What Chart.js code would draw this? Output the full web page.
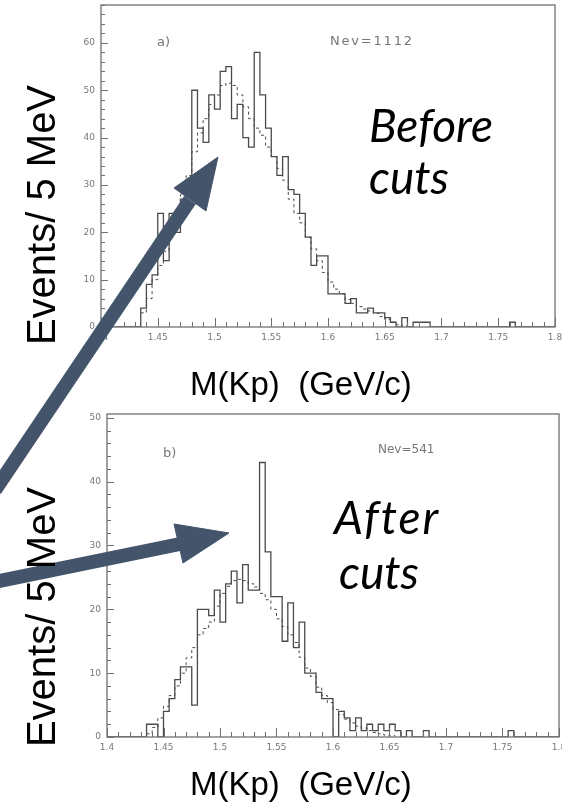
<!DOCTYPE html>
<html>
<head>
<meta charset="utf-8">
<script src="https://cdn.jsdelivr.net/npm/chart.js@4.4.1/dist/chart.umd.min.js"></script>
<style>
  html, body { margin: 0; padding: 0; background: #fff; }
  #page { position: relative; width: 564px; height: 802px; overflow: hidden; }
  canvas { position: absolute; }
  .t { position: absolute; white-space: nowrap; line-height: 1; color: #000; }
  .axis { font-family: "Liberation Sans", Arial, sans-serif; font-size: 33px; }
  .ylab { font-family: "Liberation Sans", Arial, sans-serif; font-size: 40px;
          transform: translate(-50%, -50%) rotate(-90deg); }
  .note { font-family: Lato, "Open Sans", sans-serif; font-style: italic; font-size: 46px; }
  .tag { font-family: "DejaVu Sans", sans-serif; color: #777; font-size: 13px; }
  svg { position: absolute; left: 0; top: 0; }
</style>
</head>
<body>
<div id="page">
  <canvas id="top" width="512" height="350" style="left:50px; top:0px"></canvas>
  <canvas id="bot" width="512" height="360" style="left:50px; top:400px"></canvas>

  <svg width="564" height="802">
    <g fill="#44546a" stroke="#44546a">
      <line x1="-5" y1="490" x2="190" y2="200" stroke-width="14"/>
      <polygon points="218,157 174,188 206,211" stroke-width="1"/>
      <line x1="-5" y1="582" x2="180" y2="544" stroke-width="14"/>
      <polygon points="229,533 174,524 183,563" stroke-width="1"/>
    </g>
  </svg>

  <div class="t tag" style="left:157px; top:35px">a)</div>
  <div class="t tag" style="left:330px; top:34px; letter-spacing:1.8px">Nev=1112</div>
  <div class="t tag" style="left:163px; top:446px">b)</div>
  <div class="t tag" style="left:378px; top:443px; font-size:12px">Nev=541</div>

  <div class="t note" style="left:369px; top:102px">Before</div>
  <div class="t note" style="left:369px; top:154px">cuts</div>
  <div class="t note" style="left:334px; top:494px; letter-spacing:2px">After</div>
  <div class="t note" style="left:339px; top:549px">cuts</div>

  <div class="t axis" style="left:190px; top:367px">M(Kp)&nbsp; (GeV/c)</div>
  <div class="t axis" style="left:190px; top:767px">M(Kp)&nbsp; (GeV/c)</div>
  <div class="t ylab" style="left:41px; top:215px">Events/ 5 MeV</div>
  <div class="t ylab" style="left:41px; top:617px">Events/ 5 MeV</div>
</div>

<script>
  // 80 bins of 5 MeV from 1.4 to 1.8 GeV
  const BIN_START = 1.4;
  const BIN_WIDTH = 0.005;
  const X_TICKS = [1.4, 1.45, 1.5, 1.55, 1.6, 1.65, 1.7, 1.75, 1.8];

  // a) before cuts
  const TOP_COUNTS = [
    0, 0, 0, 0, 0, 0, 0, 4, 9, 11,
    24, 14, 24, 20, 27, 31, 50, 42, 39, 49,
    46, 54, 55, 44, 47, 40, 38, 58, 49, 42,
    36, 32, 36, 29, 28, 24, 19, 13, 15, 15,
    7, 7, 7, 5, 6, 3, 3, 4, 3, 3,
    2, 1, 0, 2, 0, 1, 1, 1, 0, 0,
    0, 0, 0, 0, 0, 0, 0, 0, 0, 0,
    0, 0, 1, 0, 0, 0, 0, 0, 0, 0
  ];
  const TOP_FIT = [
    null, null, null, null, null, null, null, 3, 6, 10,
    13, 16, 20, 24, 28, 32, 37, 41, 44, 47,
    49, 51, 51.5, 51, 49, 46.5, 44, 42, 40.5, 38,
    36, 33.5, 31, 27, 24, 22, 19, 16.5, 14, 11.5,
    9.5, 8, 7, 5.8, 5, 4.3, 3.8, 3.4, 2.9, 2.2,
    1.6, 1, 0.5, 0.2, null, null, null, null, null, null,
    null, null, null, null, null, null, null, null, null, null,
    null, null, null, null, null, null, null, null, null, null
  ];
  const TOP_Y_MAX = 68;
  const TOP_Y_TICKS = [0, 10, 20, 30, 40, 50, 60];

  // b) after cuts
  const BOT_COUNTS = [
    0, 0, 0, 0, 0, 0, 0, 2, 2, 0,
    4, 6, 9, 11, 11, 5, 20, 20, 19, 23,
    18, 24, 26, 21, 27, 23, 23, 43, 29, 22,
    22, 15, 21, 14, 18, 10, 10, 7, 6, 6,
    0, 4, 3, 1, 3, 1, 2, 1, 2, 1,
    2, 1, 0, 1, 0, 0, 1, 0, 0, 0,
    0, 0, 0, 0, 0, 0, 0, 0, 0, 0,
    0, 1, 0, 0, 0, 0, 0, 0, 0, 0
  ];
  const BOT_FIT = [
    null, null, null, null, null, null, null, 0.5, 1.5, 3,
    4.8, 6.5, 8, 10, 12.4, 14, 16, 17, 18, 20.5,
    22.5, 23.6, 24.5, 24.7, 24.5, 24, 23.5, 22.5, 21.5, 20,
    18.5, 17.3, 16, 14.8, 12.5, 10.8, 9.5, 7.8, 6.5, 5.4,
    4.3, 3.5, 2.8, 2.2, 1.7, 1.4, 1, 0.7, 0.5, 0.3,
    0.2, null, null, null, null, null, null, null, null, null,
    null, null, null, null, null, null, null, null, null, null,
    null, null, null, null, null, null, null, null, null, null
  ];
  const BOT_Y_MAX = 50.6;
  const BOT_Y_TICKS = [0, 10, 20, 30, 40, 50];

  const INK = "#4a4a4a";
  const FRAME = "#707070";

  // bin contents -> step points at the left edge of each bin, closed after the last bin
  function steps(values) {
    const pts = values.map((v, i) => ({ x: +(BIN_START + i * BIN_WIDTH).toFixed(3), y: v }));
    let last = null;
    for (let i = values.length - 1; i >= 0; i--) { if (values[i] !== null) { last = i; break; } }
    pts.splice(last + 1, 0, { x: +(BIN_START + (last + 1) * BIN_WIDTH).toFixed(3), y: values[last] });
    return pts;
  }

  // frame + PAW style ticks pointing into the plot
  const frameTicks = {
    id: "frameTicks",
    afterDatasetsDraw(chart) {
      const { ctx, chartArea: a, scales: { x, y } } = chart;
      ctx.save();
      ctx.strokeStyle = FRAME;
      ctx.lineWidth = 1.3;
      ctx.strokeRect(a.left, a.top, a.width, a.height);
      ctx.lineWidth = 1;
      ctx.beginPath();
      for (let i = 0; i <= 40; i++) {
        const px = Math.round(x.getPixelForValue(BIN_START + i * 0.01)) + 0.5;
        const len = i % 5 === 0 ? 9 : 5;
        ctx.moveTo(px, a.bottom);
        ctx.lineTo(px, a.bottom - len);
      }
      for (let v = 0; v <= y.max; v += 2) {
        const py = Math.round(y.getPixelForValue(v)) + 0.5;
        const len = v % 10 === 0 ? 7 : 4;
        ctx.moveTo(a.left, py);
        ctx.lineTo(a.left + len, py);
      }
      ctx.stroke();
      ctx.restore();
    }
  };

  function makeChart(id, counts, fit, yMax, yTicks, box) {
    const tickFont = { family: "DejaVu Sans", size: 9 };
    return new Chart(document.getElementById(id), {
      type: "line",
      data: {
        datasets: [
          { data: steps(counts), stepped: true, borderColor: INK, borderWidth: 1.3, pointRadius: 0, fill: false },
          { data: steps(fit), stepped: true, borderColor: INK, borderWidth: 1, borderDash: [3, 3], pointRadius: 0, fill: false }
        ]
      },
      options: {
        responsive: false,
        animation: false,
        devicePixelRatio: 1,
        layout: { padding: { top: box.top, right: box.right, left: 0, bottom: 0 } },
        plugins: { legend: { display: false }, tooltip: { enabled: false } },
        scales: {
          x: {
            type: "linear", min: 1.4, max: 1.8,
            grid: { display: false, drawTicks: false },
            border: { display: false },
            afterBuildTicks: s => { s.ticks = X_TICKS.map(v => ({ value: v })); },
            afterFit: s => { s.height = box.xh; s.paddingLeft = 0; s.paddingRight = 0; },
            ticks: { color: "#777", font: tickFont, padding: 5, maxRotation: 0, autoSkip: false,
                     callback: v => String(+v.toFixed(2)) }
          },
          y: {
            min: 0, max: yMax,
            grid: { display: false, drawTicks: false },
            border: { display: false },
            afterBuildTicks: s => { s.ticks = yTicks.map(v => ({ value: v })); },
            afterFit: s => { s.width = box.yw; s.paddingTop = 0; s.paddingBottom = 0; },
            ticks: { color: "#777", font: tickFont, padding: 6 }
          }
        }
      },
      plugins: [frameTicks]
    });
  }

  makeChart("top", TOP_COUNTS, TOP_FIT, TOP_Y_MAX, TOP_Y_TICKS, { top: 5, right: 7, xh: 23, yw: 51 });
  makeChart("bot", BOT_COUNTS, BOT_FIT, BOT_Y_MAX, BOT_Y_TICKS, { top: 14, right: 3, xh: 23, yw: 57 });
</script>
</body>
</html>
